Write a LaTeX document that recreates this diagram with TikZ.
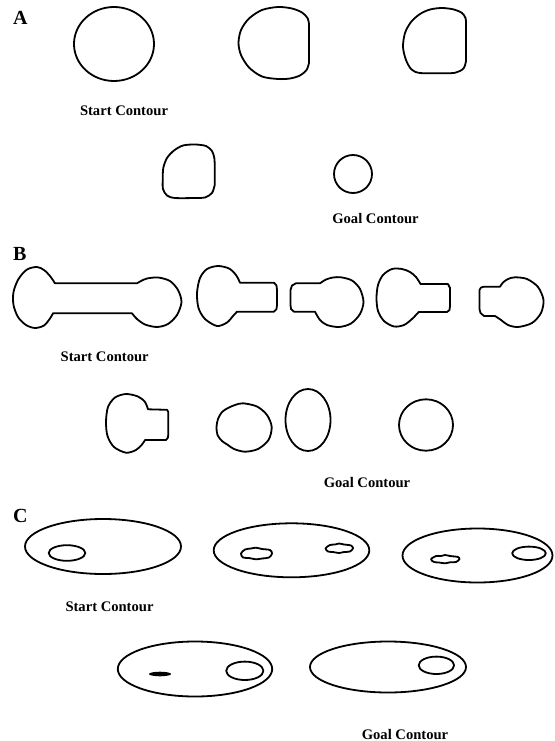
\documentclass[tikz,border=0pt]{standalone}
\usepackage{fontspec}
\setmainfont{Liberation Serif}
\begin{document}
\begin{tikzpicture}[x=1pt,y=-1pt,
  contour/.style={draw=black,line width=1.8pt,line join=round},
  lbl/.style={font=\fontsize{14.6}{16}\selectfont\bfseries,inner sep=0pt,anchor=base},
  panel/.style={font=\fontsize{20}{22}\selectfont\bfseries,inner sep=0pt,anchor=base west}]
\useasboundingbox (0,0) rectangle (554,741);
% ---------------- Panel A ----------------
\node[panel] (pA) at (13,25) {A};
\draw[contour] (114,44) ellipse [x radius=40pt, y radius=37pt];
\draw[contour] plot[smooth] coordinates {(309,63)(306.5,70)(300,75.5)(290,78.5)(278,79)(262,76.5)(249,67.5)(241,55)(238.5,43)(241,30)(249,18.5)(262,10)(278,7)(292,8.5)(302,12.5)(307.5,18)(309,24)} -- cycle;
\draw[contour] plot[smooth] coordinates {(466,61)(463.5,68.5)(455,72.8)(440,73.2)(420,73)(411.5,69.5)(406,60)(403,47)(405,33)(411,22)(420,14)(430,9.5)(442,8)(454,9.5)(462,13)(465.5,18)(466,24)} -- cycle;
\draw[contour] plot[smooth] coordinates {(214.7,185)(212,193)(205,197.5)(195,198)(175,198)(167,195.5)(163,189)(162.7,180)(163.3,168)(167,158)(174,150.5)(183,145.5)(195,144.5)(206,146)(212,151)(214.3,158)(214.7,165)} -- cycle;
\draw[contour] (353,174) ellipse [x radius=19pt, y radius=19pt];
\node[lbl] (startA) at (124,116) {Start Contour};
\node[lbl] (goalA) at (375.5,223) {Goal Contour};
% ---------------- Panel B ----------------
\node[panel] (pB) at (13,260) {B};
% dumbbell
\draw[contour] plot[smooth] coordinates {(55,283.3)(50,276)(44,270)(37,267)(27,269.5)(18.5,279)(13.5,292)(13.5,305)(18,317)(26,325)(35,328)(44,325.5)(50,318.5)(53,313.3)}
  -- plot[smooth] coordinates {(132,313.3)(137,319)(145,324.5)(157,327)(168,324)(177,315)(181.5,302)(178,290)(170,281)(158,277.5)(147,278.5)(141,281)(137,283.3)} -- cycle;
% B2
\draw[contour] plot[smooth] coordinates {(240,282.7)(236,275)(229,268.5)(218,266)(207,269)(200,278)(197,293)(198.5,308)(205,319)(217,326)(227,322.5)(233,316)(237,311.7)}
  -- (274,311.7) -- (276.5,309) -- (277,305) -- (277,290) -- (276.5,285.5) -- (274,282.7) -- cycle;
% B3
\draw[contour] plot[smooth] coordinates {(320,283.3)(326,279.5)(333,277.5)(341,277.3)(352,280.5)(360,289)(363.5,302)(360,314)(351,323.5)(339,327)(327,325)(320,320)(315,311.7)}
  -- (294,311.7) -- (291,309) -- (290.5,305) -- (290.5,290) -- (292,285.5) -- (296,283.3) -- cycle;
% B4
\draw[contour] plot[smooth] coordinates {(420.5,284)(416,277)(410,272)(402,269)(392,269)(383,275)(378,285)(376.5,298)(378,311)(384,321)(394,326.5)(404,325)(412,319)(418.7,312)}
  -- (447,312) -- (449.5,310) -- (450,306) -- (450,288) -- (448,284) -- cycle;
% B5
\draw[contour] plot[smooth] coordinates {(500,286.7)(503,282.5)(508,279)(515,277.3)(527,279)(538,287)(543.5,300)(541,313)(532,323)(518,327)(508,325)(501,320)(495,316)}
  -- (484,316) -- (480.5,313) -- (479.5,309) -- (479.5,290) -- (481,287.5) -- (484,286.7) -- cycle;
% B6
\draw[contour] plot[smooth] coordinates {(148,409.3)(145,402)(138,396.5)(126,394)(115,397.5)(108,407)(106,421.7)(107.5,436)(114,447)(126,452.7)(136,450)(142,444.5)(145,440)}
  -- (166,440) -- (168,437.5) -- (168.3,434) -- (168.3,412) -- (167,409.8) -- cycle;
% B7
\draw[contour] plot[smooth cycle] coordinates {(243,403.3)(257,406.5)(267,415)(271.7,427)(268.5,440)(258,449)(245,451.7)(234,449)(228,445)(222,441)(217.5,435)(216.5,427)(218,419)(222,412)(228,408)(235,405)};
\draw[contour] (308,420) ellipse [x radius=22.5pt, y radius=31pt];
\draw[contour] (426,425) ellipse [x radius=27pt, y radius=25.7pt];
\node[lbl] (startB) at (104.7,361.5) {Start Contour};
\node[lbl] (goalB) at (367,487) {Goal Contour};
% ---------------- Panel C ----------------
\node[panel] (pC) at (13,522) {C};
% C1
\draw[contour] (103,546.5) ellipse [x radius=78pt, y radius=27.5pt];
\draw[contour] (67,553) ellipse [x radius=18.3pt, y radius=7.8pt];
% C2
\draw[contour] (291.5,550.3) ellipse [x radius=77.8pt, y radius=27pt];
\draw[contour] plot[smooth cycle] coordinates {(241,553.5)(245,549.5)(251,548.5)(256,547.7)(262,549)(270,550)(272,553.5)(269,557.5)(262,558.5)(256,559.3)(249,558)(243,557.5)};
\draw[contour] plot[smooth cycle] coordinates {(325.5,548.3)(330,545)(335,544.5)(339,543.5)(344,544.5)(351,545.5)(353,548.3)(350,551.5)(344,552)(339,553)(333,552)(328,551.5)};
% C3
\draw[contour] (477.5,555.5) ellipse [x radius=75pt, y radius=27pt];
\draw[contour] plot[smooth cycle] coordinates {(431,559.2)(436,556)(441,556)(445,555)(450,556)(458,557)(459.4,559.2)(456,562)(450,562.3)(445,563.3)(439,562.5)(434,562)};
\draw[contour] (529,553.3) ellipse [x radius=16.8pt, y radius=6.7pt];
% C4
\draw[contour] (195,669) ellipse [x radius=77.2pt, y radius=27.5pt];
\fill[black] (160,674) ellipse [x radius=11pt, y radius=2.3pt];
\draw[contour] (244.8,670.8) ellipse [x radius=18.6pt, y radius=9.2pt];
% C5
\draw[contour] (388,667) ellipse [x radius=78pt, y radius=25.5pt];
\draw[contour] (436.4,665.3) ellipse [x radius=17.7pt, y radius=8.7pt];
\node[lbl] (startC) at (109.5,611) {Start Contour};
\node[lbl] (goalC) at (405,739) {Goal Contour};
\end{tikzpicture}
\end{document}
